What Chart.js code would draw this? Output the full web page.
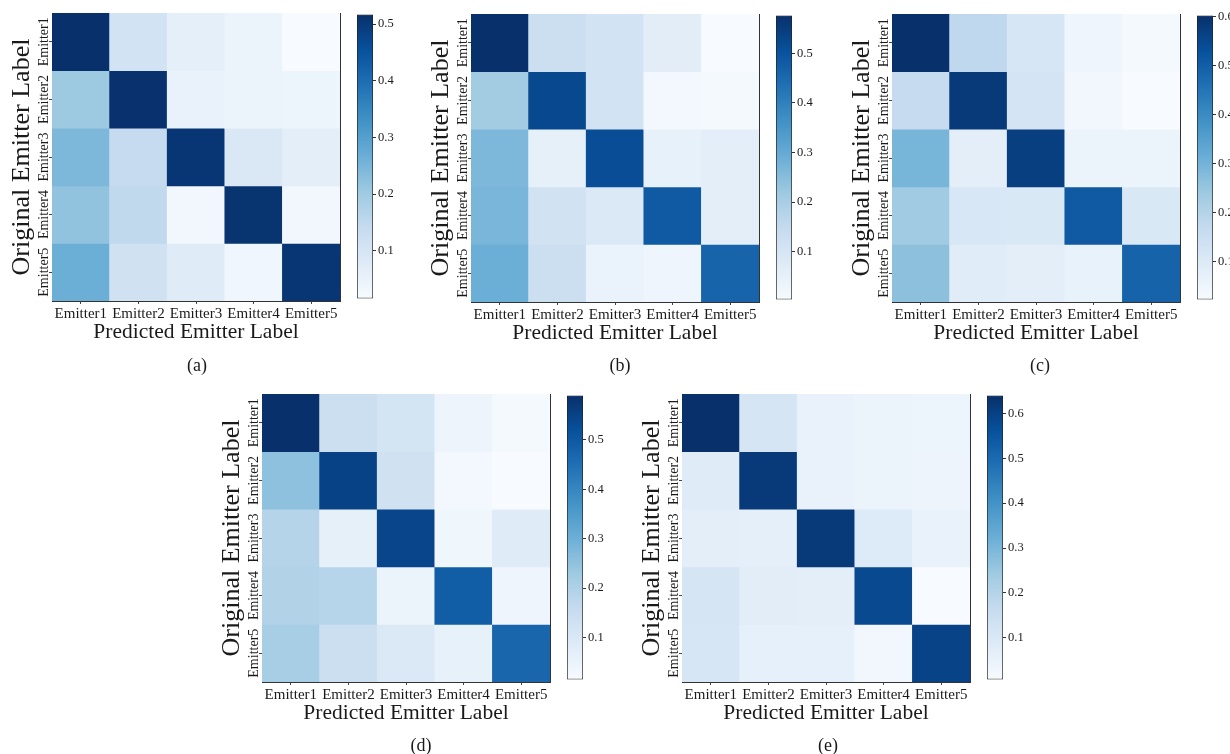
<!DOCTYPE html>
<html>
<head>
<meta charset="utf-8">
<title>Confusion matrices</title>
<script src="https://cdn.jsdelivr.net/npm/chart.js@4.4.0/dist/chart.umd.min.js"></script>
<style>
    body { margin: 0; background: #fff; width: 1230px; height: 754px; position: relative; overflow: hidden; font-family: 'Liberation Serif', 'Times New Roman', serif; }
    canvas { position: absolute; }
    .cap { position: absolute; font-size: 18px; color: #1a1a1a; transform: translate(-50%, -50%); line-height: 1; }
</style>
</head>
<body>
<script>
// Nhãn trục
var predLabels = ['Emitter1', 'Emitter2', 'Emitter3', 'Emitter4', 'Emitter5'];
var origLabels = ['Emitter1', 'Emitter2', 'Emitter3', 'Emitter4', 'Emitter5'];
var captions = ['(a)', '(b)', '(c)', '(d)', '(e)'];

// Ma trận nhầm lẫn (hàng = nhãn gốc, cột = nhãn dự đoán)
var matA = [
    [0.517, 0.110, 0.062, 0.045, 0.016],
    [0.205, 0.515, 0.050, 0.045, 0.040],
    [0.245, 0.140, 0.505, 0.090, 0.065],
    [0.220, 0.150, 0.030, 0.510, 0.032],
    [0.265, 0.115, 0.075, 0.035, 0.505]
];
var matB = [
    [0.576, 0.130, 0.110, 0.065, 0.004],
    [0.210, 0.525, 0.110, 0.018, 0.012],
    [0.265, 0.055, 0.513, 0.050, 0.060],
    [0.270, 0.115, 0.085, 0.485, 0.060],
    [0.290, 0.130, 0.040, 0.030, 0.462]
];
var matC = [
    [0.602, 0.180, 0.120, 0.050, 0.033],
    [0.168, 0.580, 0.125, 0.040, 0.023],
    [0.295, 0.080, 0.570, 0.058, 0.055],
    [0.237, 0.115, 0.110, 0.510, 0.110],
    [0.266, 0.090, 0.080, 0.065, 0.490]
];
var matD = [
    [0.590, 0.140, 0.120, 0.045, 0.024],
    [0.255, 0.550, 0.130, 0.030, 0.015],
    [0.190, 0.065, 0.545, 0.038, 0.085],
    [0.195, 0.185, 0.050, 0.490, 0.040],
    [0.215, 0.140, 0.095, 0.060, 0.470]
];
var matE = [
    [0.640, 0.115, 0.050, 0.042, 0.038],
    [0.083, 0.615, 0.050, 0.042, 0.040],
    [0.070, 0.068, 0.615, 0.090, 0.050],
    [0.115, 0.075, 0.070, 0.580, 0.007],
    [0.110, 0.060, 0.060, 0.027, 0.595]
];

// Bảng màu Blues của matplotlib
var blues = ['#f7fbff', '#deebf7', '#c6dbef', '#9ecae1', '#6baed6', '#4292c6', '#2171b5', '#08519c', '#08306b'];

var FONT = "'Liberation Serif', 'Times New Roman', serif";
var INK = '#1a1a1a';

// Vị trí từng hình (góc trên trái vùng vẽ)
var panels = [
    { mat: matA, plotLeft: 52,  plotTop: 13,  capX: 197, capY: 365 },
    { mat: matB, plotLeft: 471, plotTop: 14,  capX: 620, capY: 365 },
    { mat: matC, plotLeft: 892, plotTop: 14,  capX: 1040, capY: 365 },
    { mat: matD, plotLeft: 262, plotTop: 394, capX: 421, capY: 745 },
    { mat: matE, plotLeft: 682, plotTop: 394, capX: 828, capY: 745 }
];

function hexToRgb(h) {
    return [parseInt(h.substr(1, 2), 16), parseInt(h.substr(3, 2), 16), parseInt(h.substr(5, 2), 16)];
}

function blueColor(t) {
    t = Math.max(0, Math.min(1, t));
    var pos = t * (blues.length - 1);
    var i = Math.min(Math.floor(pos), blues.length - 2);
    var f = pos - i;
    var a = hexToRgb(blues[i]), b = hexToRgb(blues[i + 1]);
    var c = a.map(function(v, k) { return Math.round(v + (b[k] - v) * f); });
    return 'rgb(' + c.join(',') + ')';
}

function makeCanvas(left, top, w, h) {
    var c = document.createElement('canvas');
    c.width = w;
    c.height = h;
    c.style.left = left + 'px';
    c.style.top = top + 'px';
    document.body.appendChild(c);
    return c;
}

function drawMatrix(p) {
    var flat = [].concat.apply([], p.mat);
    var vmin = Math.min.apply(null, flat);
    var vmax = Math.max.apply(null, flat);

    // Mỗi hàng là một dataset, mỗi ô là một thanh nổi [r, r+1]
    var datasets = p.mat.map(function(row, r) {
        return {
            data: row.map(function(v, c) { return { x: predLabels[c], y: [r, r + 1], v: v }; }),
            backgroundColor: function(ctx) {
                return blueColor((ctx.raw.v - vmin) / (vmax - vmin));
            },
            borderWidth: 0,
            grouped: false,
            barPercentage: 1,
            categoryPercentage: 1
        };
    });

    var canvas = makeCanvas(p.plotLeft - 52, p.plotTop - 13, 350, 360);
    new Chart(canvas, {
        type: 'bar',
        data: { labels: predLabels, datasets: datasets },
        options: {
            responsive: false,
            animation: false,
            layout: { padding: { left: 0, top: 13, right: 10, bottom: 15 } },
            plugins: { legend: { display: false }, tooltip: { enabled: false } },
            scales: {
                x: {
                    type: 'category',
                    offset: true,
                    grid: { drawOnChartArea: false, offset: false, tickLength: 3, color: '#444' },
                    border: { display: true, color: '#333', width: 1 },
                    ticks: { font: { family: FONT, size: 15 }, color: INK, padding: 1, maxRotation: 0, autoSkip: false },
                    title: { display: true, text: 'Predicted Emitter Label', font: { family: FONT, size: 21.5 }, color: INK, padding: 0 },
                    afterFit: function(s) { s.height = 44; },
                    z: 1
                },
                y: {
                    type: 'linear',
                    min: 0,
                    max: 5,
                    reverse: true,
                    afterBuildTicks: function(s) {
                        s.ticks = origLabels.map(function(l, i) { return { value: i + 0.5 }; });
                    },
                    grid: { drawOnChartArea: false, tickLength: 3, color: '#444' },
                    border: { display: true, color: '#333', width: 1 },
                    ticks: {
                        callback: function(v) { return origLabels[Math.floor(v)]; },
                        font: { family: FONT, size: 14 },
                        color: INK,
                        minRotation: 90,
                        maxRotation: 90,
                        crossAlign: 'center',
                        padding: -19.5
                    },
                    title: { display: true, text: 'Original Emitter Label', font: { family: FONT, size: 26 }, color: INK, padding: { top: 7, bottom: 0 } },
                    afterFit: function(s) { s.width = 52; },
                    z: 1
                },
                // khung trên và phải
                x2: {
                    type: 'category',
                    position: 'top',
                    ticks: { display: false },
                    grid: { display: false, drawTicks: false },
                    border: { display: true, color: '#333', width: 1 },
                    afterFit: function(s) { s.height = 0; },
                    z: 1
                },
                y2: {
                    type: 'linear',
                    position: 'right',
                    min: 0,
                    max: 5,
                    ticks: { display: false },
                    grid: { display: false, drawTicks: false },
                    border: { display: true, color: '#333', width: 1 },
                    afterFit: function(s) { s.width = 0; },
                    z: 1
                }
            }
        }
    });

    // Thanh màu
    var cb = makeCanvas(p.plotLeft + 288 + 17, p.plotTop - 8, 50, 287 + 16);
    new Chart(cb, {
        type: 'bar',
        data: {
            labels: [''],
            datasets: [{
                data: [[vmin, vmax]],
                backgroundColor: function(ctx) {
                    var area = ctx.chart.chartArea;
                    if (!area) return null;
                    var g = ctx.chart.ctx.createLinearGradient(0, area.bottom, 0, area.top);
                    blues.forEach(function(col, i) { g.addColorStop(i / (blues.length - 1), col); });
                    return g;
                },
                borderColor: '#222',
                borderWidth: 1,
                borderSkipped: false,
                barPercentage: 1,
                categoryPercentage: 1
            }]
        },
        options: {
            responsive: false,
            animation: false,
            layout: { padding: { top: 8, bottom: 8, left: 0, right: 0 } },
            plugins: { legend: { display: false }, tooltip: { enabled: false } },
            scales: {
                x: { display: false },
                y: {
                    position: 'right',
                    min: vmin,
                    max: vmax,
                    ticks: { stepSize: 0.1, includeBounds: false, font: { family: FONT, size: 12.5 }, color: INK, padding: 2 },
                    grid: { drawOnChartArea: false, tickLength: 3, color: '#333' },
                    border: { display: false },
                    afterFit: function(s) { s.width = 34; }
                }
            }
        }
    });
}

document.addEventListener('DOMContentLoaded', function() {
    panels.forEach(function(p, i) {
        drawMatrix(p);
        var cap = document.createElement('div');
        cap.className = 'cap';
        cap.textContent = captions[i];
        cap.style.left = p.capX + 'px';
        cap.style.top = p.capY + 'px';
        document.body.appendChild(cap);
    });
});
</script>
</body>
</html>
